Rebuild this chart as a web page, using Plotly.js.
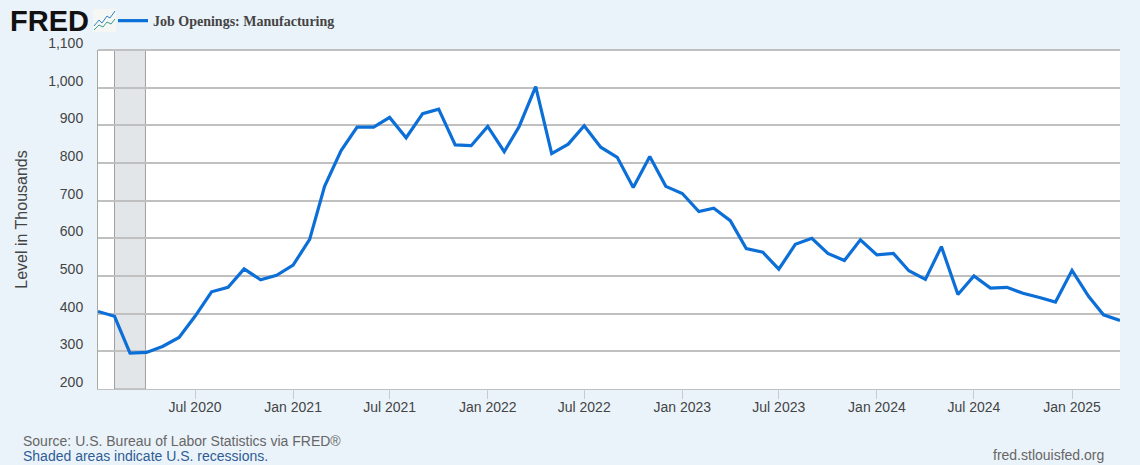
<!DOCTYPE html>
<html>
<head>
<meta charset="utf-8">
<script src="https://cdn.plot.ly/plotly-3.0.1.min.js"></script>
<style>html,body{margin:0;padding:0;background:#ebf3fa;overflow:hidden}#chart{width:1140px;height:465px}</style>
</head>
<body>
<div id="chart"></div>
<script>
const seriesName = "Job Openings: Manufacturing";
const months = ["2020-01-01","2020-02-01","2020-03-01","2020-04-01","2020-05-01","2020-06-01","2020-07-01","2020-08-01","2020-09-01","2020-10-01","2020-11-01","2020-12-01",
"2021-01-01","2021-02-01","2021-03-01","2021-04-01","2021-05-01","2021-06-01","2021-07-01","2021-08-01","2021-09-01","2021-10-01","2021-11-01","2021-12-01",
"2022-01-01","2022-02-01","2022-03-01","2022-04-01","2022-05-01","2022-06-01","2022-07-01","2022-08-01","2022-09-01","2022-10-01","2022-11-01","2022-12-01",
"2023-01-01","2023-02-01","2023-03-01","2023-04-01","2023-05-01","2023-06-01","2023-07-01","2023-08-01","2023-09-01","2023-10-01","2023-11-01","2023-12-01",
"2024-01-01","2024-02-01","2024-03-01","2024-04-01","2024-05-01","2024-06-01","2024-07-01","2024-08-01","2024-09-01","2024-10-01","2024-11-01","2024-12-01",
"2025-01-01","2025-02-01","2025-03-01","2025-04-01"];
const openings = [406,393,295,297,313,337,393,458,470,519,490,502,
529,597,738,833,895,895,921,867,931,943,848,846,
897,830,897,1003,825,850,899,842,815,735,817,738,
719,671,680,647,573,563,518,584,600,560,541,596,
556,560,514,491,578,451,500,468,470,454,443,431,
515,446,397,382];
const xTickVals = ["2020-07-01","2021-01-01","2021-07-01","2022-01-01","2022-07-01","2023-01-01","2023-07-01","2024-01-01","2024-07-01","2025-01-01"];
const xTickText = ["Jul 2020","Jan 2021","Jul 2021","Jan 2022","Jul 2022","Jan 2023","Jul 2023","Jan 2024","Jul 2024","Jan 2025"];
const yTickVals = [200,300,400,500,600,700,800,900,1000,1100];
const yTickText = ["200","300","400","500","600","700","800","900","1,000","1,100"];
const recession = ["2020-02-01","2020-03-30"];

const iconSvg = "<svg xmlns='http://www.w3.org/2000/svg' width='23' height='23'><rect width='23' height='23' fill='#f4f7f4'/><path d='M1 17 L6 11 L9 14 L14 7 L17 9 L22 2' fill='none' stroke='#2f7fc4' stroke-width='1'/><path d='M1 21 L6 16 L10 18 L14 13 L18 15 L22 10' fill='none' stroke='#3a9a8a' stroke-width='1'/></svg>";

const data = [{
  type: "scatter", mode: "lines", name: seriesName,
  x: months, y: openings,
  line: {color: "#0c6fd8", width: 3.2, shape: "linear"},
  showlegend: true
}];
const layout = {
  width: 1140, height: 465,
  paper_bgcolor: "#ebf3fa", plot_bgcolor: "#ffffff",
  margin: {l: 98, r: 20, t: 50, b: 75.5, pad: 0, autoexpand: false},
  font: {family: "Liberation Sans, Arial, sans-serif", color: "#444444", size: 14},
  showlegend: true,
  legend: {
    orientation: "h", x: 0.0147, xref: "paper", y: 1.0854, yref: "paper",
    xanchor: "left", yanchor: "middle",
    bgcolor: "rgba(0,0,0,0)",
    font: {family: "Liberation Serif, Times New Roman, serif", size: 14, color: "#444444", weight: 700},
    itemwidth: 30
  },
  xaxis: {
    type: "date", range: ["2020-01-01", "2025-04-01"], autorange: false,
    tickmode: "array", tickvals: xTickVals, ticktext: xTickText,
    ticks: "outside", ticklen: 9, tickwidth: 1, tickcolor: "#c8ccd0",
    ticklabelstandoff: -4,
    showgrid: false, zeroline: false,
    showline: true, linecolor: "#c0c0c0", linewidth: 1,
    tickfont: {size: 14, color: "#444444"}, tickangle: 0
  },
  yaxis: {
    range: [200, 1100], autorange: false,
    tickmode: "array", tickvals: yTickVals, ticktext: yTickText,
    ticks: "", showgrid: true, gridcolor: "#c0c0c0", gridwidth: 2, zeroline: false,
    showline: true, linecolor: "#a8a8a8", linewidth: 1,
    ticklabelstandoff: 11, ticklabelshift: -7,
    tickfont: {size: 14, color: "#444444"},
    title: {text: "Level in Thousands", font: {size: 16, color: "#444444"}, standoff: 16}
  },
  shapes: [
    {type: "rect", xref: "x", yref: "paper", x0: recession[0], x1: recession[1], y0: 0, y1: 1,
     fillcolor: "rgba(200,206,212,0.5)", line: {color: "#a0a0a0", width: 1}, layer: "below"},
    {type: "line", xref: "paper", yref: "paper", x0: 0, x1: 1, y0: 1, y1: 1,
     line: {color: "#c0c0c0", width: 2}, layer: "below"}
  ],
  images: [{
    source: "data:image/svg+xml;utf8," + encodeURIComponent(iconSvg),
    xref: "paper", yref: "paper", x: -0.0049, y: 1.1208, sizex: 0.0225, sizey: 0.0677,
    xanchor: "left", yanchor: "top", sizing: "stretch", layer: "above"
  }],
  annotations: [
    {text: "<b>FRED</b>", xref: "paper", yref: "paper", x: -0.0885, y: 1.0854, xanchor: "left", yanchor: "middle", showarrow: false,
     font: {family: "Liberation Sans, Arial, sans-serif", size: 29, color: "#111111"}},
    {text: "Source: U.S. Bureau of Labor Statistics via FRED®", xref: "paper", yref: "paper", x: -0.0753, y: -0.1546, xanchor: "left", yanchor: "middle", showarrow: false,
     font: {size: 14, color: "#666666"}},
    {text: "Shaded areas indicate U.S. recessions.", xref: "paper", yref: "paper", x: -0.0753, y: -0.1988, xanchor: "left", yanchor: "middle", showarrow: false,
     font: {size: 14, color: "#2e5c94"}},
    {text: "fred.stlouisfed.org", xref: "paper", yref: "paper", x: 0.9863, y: -0.1958, xanchor: "right", yanchor: "middle", showarrow: false,
     font: {size: 14, color: "#666666"}}
  ]
};
Plotly.newPlot("chart", data, layout, {displayModeBar: false, responsive: false});
</script>
</body>
</html>
